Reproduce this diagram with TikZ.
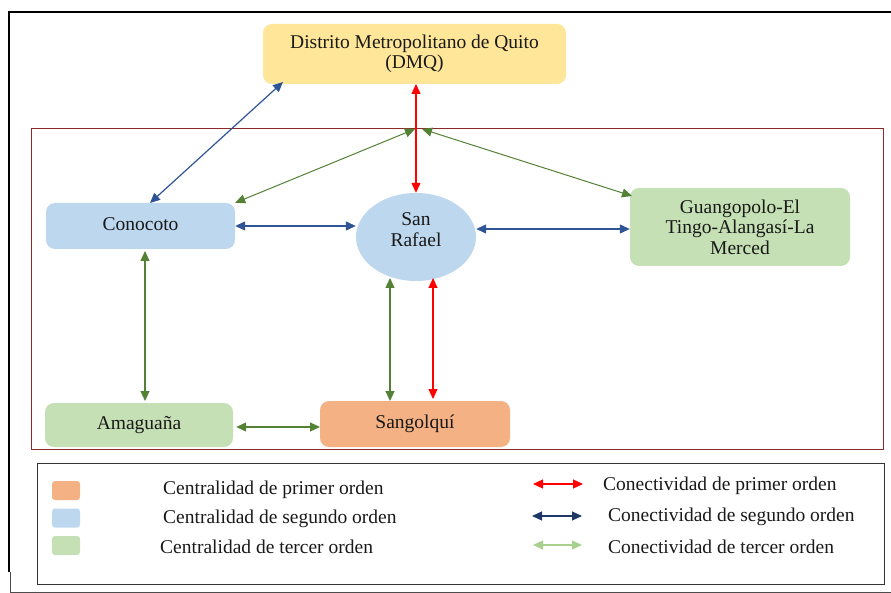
\documentclass[tikz,border=0pt]{standalone}
\usepackage{fontspec}
\setmainfont{Liberation Serif}
\usetikzlibrary{arrows.meta,shapes.geometric}
\definecolor{cyellow}{HTML}{FFE699}
\definecolor{cblue}{HTML}{BDD7EE}
\definecolor{cgreen}{HTML}{C5E0B4}
\definecolor{corange}{HTML}{F4B183}
\definecolor{aBlue}{HTML}{2F5597}
\definecolor{aRed}{HTML}{FF0000}
\definecolor{aGreen}{HTML}{548235}
\definecolor{lNavy}{HTML}{1F3864}
\definecolor{lGreen}{HTML}{A9D18E}
\definecolor{frameRed}{HTML}{8B2A2A}
\begin{document}
\begin{tikzpicture}[x=1pt,y=-1pt,
  every node/.style={font=\fontsize{19.5}{20.5}\selectfont, text=black!90},
  boxnode/.style={rounded corners=9pt, draw=none, align=center, inner sep=0pt},
  arr/.style={{Triangle[length=10pt,width=9pt]}-{Triangle[length=10pt,width=9pt]}, line width=1.2pt},
  swatch/.style={rounded corners=3pt, draw=none, minimum width=28pt, minimum height=19pt, inner sep=0pt},
  legtext/.style={anchor=west, inner sep=0pt}
]
\useasboundingbox (0,0) rectangle (891,593);
% outer frame
\draw[line width=1.6pt, black] (891,12) -- (9,12) -- (9,572);
\draw[line width=0.8pt, black!70] (10,572) -- (10,592) -- (891,592);
% red frame
\draw[line width=0.9pt, frameRed] (31,128) rectangle (883,449);
% nodes
\node[boxnode, fill=cyellow, minimum width=303pt, minimum height=60pt] (dmq) at (414.5,54) {Distrito Metropolitano de Quito\\(DMQ)};
\node[boxnode, fill=cblue, minimum width=189pt, minimum height=46pt] (con) at (140.5,226) {\raisebox{4pt}{Conocoto}};
\node[ellipse, fill=cblue, minimum width=120pt, minimum height=88pt, inner sep=0pt, align=center] (sr) at (416,237) {San\\Rafael\\[-6pt]\mbox{}};
\node[boxnode, fill=cgreen, minimum width=220pt, minimum height=78pt] (gua) at (740,227) {Guangopolo-El\\Tingo-Alangasí-La\\Merced};
\node[boxnode, fill=cgreen, minimum width=188pt, minimum height=44pt] (ama) at (139,425) {Amaguaña};
\node[boxnode, fill=corange, minimum width=190pt, minimum height=46pt] (san) at (415,424) {\raisebox{4pt}{Sangolquí}};
\coordinate (hubL) at (415,129);
\coordinate (hubR) at (422,129);
% connectors
\draw[arr, aBlue] (150,203) -- (283,82);
\draw[arr, aRed] (416,84) -- (sr.north);
\draw[arr, aGreen, line width=1pt] (hubL) -- (con.north east);
\draw[arr, aGreen, line width=1pt] (hubR) -- (632,196);
\draw[arr, aBlue] (con.east) -- (sr.west |- con.east);
\draw[arr, aBlue] (sr.east |- 0,229) -- (gua.west |- 0,229);
\draw[arr, aGreen] (145,251) -- (145,401);
\draw[arr, aGreen] (390,278) -- (390,401);
\draw[arr, aRed] (433,278) -- (433,399);
\draw[arr, aGreen] (ama.east) ++(3,2) -- (320,427);
% legend
\node[draw=black!80, line width=0.9pt, minimum width=847pt, minimum height=121pt, inner sep=0pt] (leg) at (460.5,523.5) {};
\node[swatch, fill=corange] (s1) at (66,490.5) {};
\node[swatch, fill=cblue] (s2) at (66,518) {};
\node[swatch, fill=cgreen] (s3) at (66,545.5) {};
\node[legtext] (t1) at (163,490) {Centralidad de primer orden};
\node[legtext] (t2) at (163,519) {Centralidad de segundo orden};
\node[legtext] (t3) at (160,547) {Centralidad de tercer orden};
\coordinate (r1a) at (533,484); \coordinate (r1b) at (583,484);
\coordinate (r2a) at (532,516); \coordinate (r2b) at (582,516);
\coordinate (r3a) at (533,545); \coordinate (r3b) at (582,545);
\draw[arr, aRed] (r1a) -- (r1b);
\draw[arr, lNavy] (r2a) -- (r2b);
\draw[arr, lGreen] (r3a) -- (r3b);
\node[legtext] (c1) at (603,486) {Conectividad de primer orden};
\node[legtext] (c2) at (608,517) {Conectividad de segundo orden};
\node[legtext] (c3) at (608,547) {Conectividad de tercer orden};
\end{tikzpicture}
\end{document}
